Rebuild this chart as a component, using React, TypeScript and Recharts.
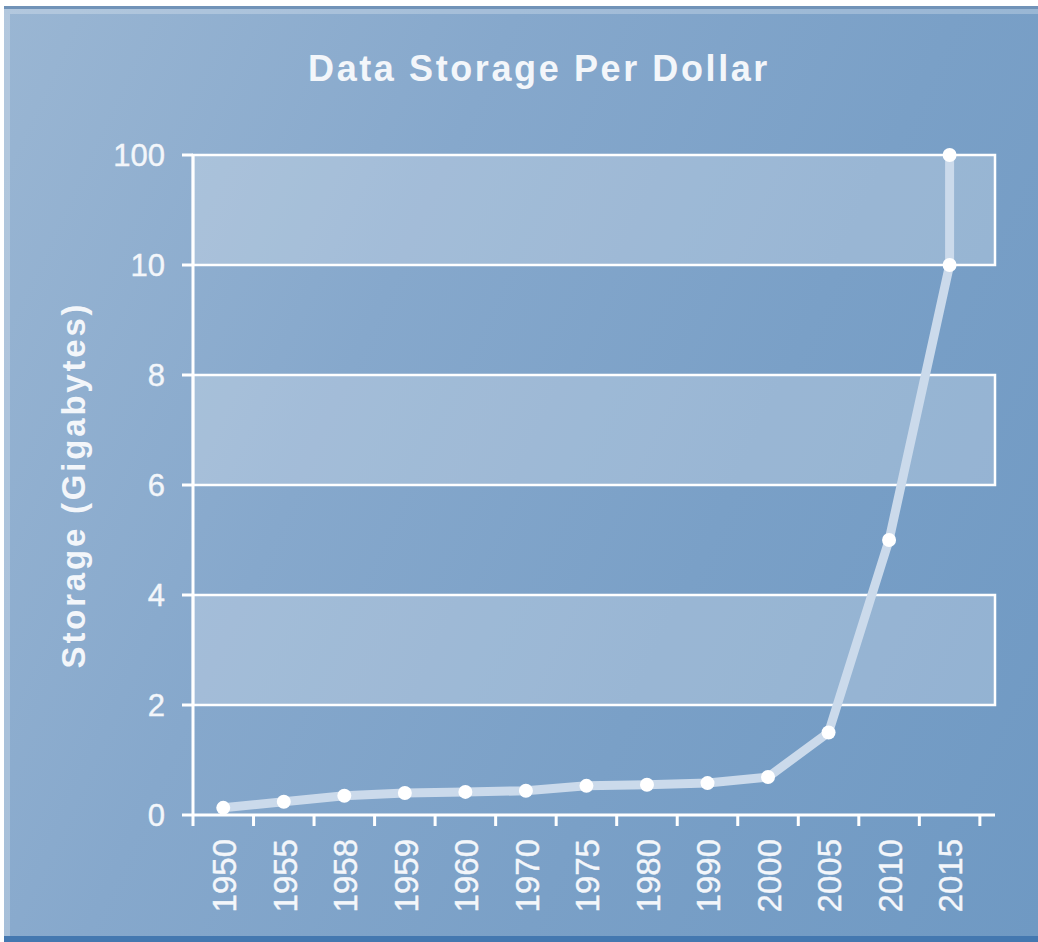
import { LineChart, Line, XAxis, YAxis, ReferenceArea } from "recharts"

// Categories along the bottom, and storage per dollar (GB)
const YEARS = ["1950", "1955", "1958", "1959", "1960", "1970", "1975", "1980", "1990", "2000", "2005", "2010", "2015"]
const STORAGE_GB = [0.13, 0.24, 0.35, 0.4, 0.42, 0.44, 0.53, 0.55, 0.58, 0.69, 1.5, 5, 10]
// 2015 also jumps to 100 at the same year
const EXTRA_YEAR = "2015"
const EXTRA_GB = 100

// The y axis is evenly spaced but not linear: 0,2,...,10 then 100
const Y_TICK_VALUES = [0, 2, 4, 6, 8, 10, 100]
// shaded bands, as [from, to] in GB
const BANDS: [number, number][] = [
  [2, 4],
  [6, 8],
  [10, 100],
]

const TEXT = "#f3f6fa"
const FONT = "'Liberation Sans', Arial, sans-serif"

// map a GB value onto the evenly spaced tick positions
function toPos(v: number) {
  for (let i = 1; i < Y_TICK_VALUES.length; i++) {
    const lo = Y_TICK_VALUES[i - 1]
    const hi = Y_TICK_VALUES[i]
    if (v <= hi || i === Y_TICK_VALUES.length - 1) {
      return i - 1 + (v - lo) / (hi - lo)
    }
  }
  return 0
}

const data = [
  ...YEARS.map((year, i) => ({ x: i + 0.5, year, pos: toPos(STORAGE_GB[i]) })),
  { x: YEARS.indexOf(EXTRA_YEAR) + 0.5, year: EXTRA_YEAR, pos: toPos(EXTRA_GB) },
]

const yTicks = Y_TICK_VALUES.map((_, i) => i)
const xTicks = Array.from({ length: YEARS.length + 1 }, (_, i) => i)

function YearTick(props: any) {
  const { x, y, payload } = props
  const label = YEARS[payload.value]
  if (!label) return null
  const tx = x + 31 + 12
  const ty = y + 11
  return (
    <text
      x={tx}
      y={ty}
      fill={TEXT}
      fontSize={33}
      fontFamily={FONT}
      stroke={TEXT}
      strokeWidth={0.4}
      textAnchor="end"
      transform={`rotate(-90, ${tx}, ${ty})`}
    >
      {label}
    </text>
  )
}

export default function App() {
  return (
    <div style={{ position: "absolute", left: 0, top: 0, width: 1038, height: 942, background: "#fff" }}>
      <div
        style={{
          position: "absolute",
          left: 4,
          top: 6,
          right: 0,
          bottom: 0,
          background: "linear-gradient(115deg, #9ab6d3 0%, #86a8cc 35%, #7aa0c7 65%, #6f99c3 100%)",
          borderTop: "3px solid #7193b8",
          borderBottom: "6px solid #4478b0",
          boxShadow: "inset 6px 5px 0 rgba(255,255,255,0.25)",
        }}
      />
      <div
        style={{
          position: "absolute",
          left: 0,
          top: 48,
          width: 1078,
          textAlign: "center",
          color: TEXT,
          fontFamily: FONT,
          fontWeight: 700,
          fontSize: 36,
          letterSpacing: 2.6,
        }}
      >
        Data Storage Per Dollar
      </div>
      <div style={{ position: "absolute", left: 0, top: 0 }}>
        <LineChart width={1038} height={942} data={data} margin={{ top: 155, right: 43, bottom: 47, left: 0 }}>
          {BANDS.map(([a, b]) => (
            <ReferenceArea
              key={a}
              x1={0}
              x2={13.25}
              y1={toPos(a)}
              y2={toPos(b)}
              fill="rgba(255,255,255,0.24)"
              fillOpacity={1}
              stroke="#ffffff"
              strokeWidth={2.5}
              ifOverflow="visible"
            />
          ))}
          <XAxis
            type="number"
            dataKey="x"
            domain={[0, 13.25]}
            ticks={xTicks}
            interval={0}
            allowDataOverflow
            height={80}
            stroke="#ffffff"
            strokeWidth={3}
            tickSize={11}
            tick={<YearTick />}
          />
          <YAxis
            type="number"
            domain={[0, 6]}
            ticks={yTicks}
            interval={0}
            width={193}
            stroke="#ffffff"
            strokeWidth={3}
            tickSize={11}
            tickMargin={17}
            tick={{ fill: TEXT, fontSize: 31, fontFamily: FONT, stroke: TEXT, strokeWidth: 0.4 }}
            tickFormatter={(v: number) => String(Y_TICK_VALUES[v])}
            label={{
              value: "Storage (Gigabytes)",
              angle: -90,
              position: "insideLeft",
              offset: 73,
              style: { textAnchor: "middle", fill: TEXT, fontSize: 33, fontWeight: 700, fontFamily: FONT, letterSpacing: 2.8 },
            }}
          />
          <Line
            type="linear"
            dataKey="pos"
            stroke="#cbdaeb"
            strokeWidth={9}
            strokeLinejoin="round"
            strokeLinecap="round"
            dot={{ r: 7, fill: "#ffffff", stroke: "none" }}
            activeDot={false}
            isAnimationActive={false}
          />
        </LineChart>
      </div>
    </div>
  )
}
